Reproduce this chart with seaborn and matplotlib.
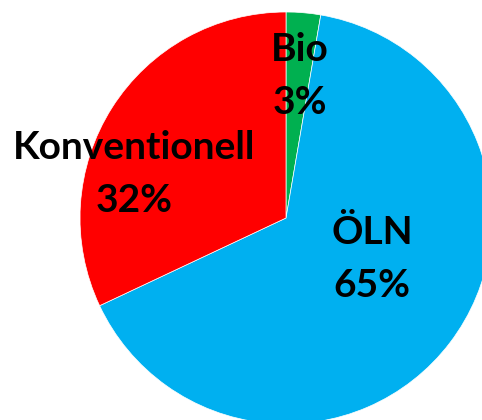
import matplotlib
matplotlib.use("Agg")
import matplotlib.pyplot as plt
import seaborn as sns

# data (shares; labels show them rounded)
labels = ["Bio", "ÖLN", "Konventionell"]
shares = [2.7, 65.3, 32.0]
colors = ["#00B050", "#00B0F0", "#FF0000"]

sns.set_style("white")
plt.rcParams['font.family'] = ['Lato', 'DejaVu Sans']

fig = plt.figure(figsize=(4.82, 4.20), dpi=100)
ax = fig.add_axes([0, 0, 1, 1])

# pie in pixel-like coordinates so it can run off the right/bottom edge
wedges, _ = ax.pie(shares, colors=colors, startangle=90, counterclock=False,
                   center=(286, 202), radius=206,
                   wedgeprops=dict(edgecolor="white", linewidth=0.5))
ax.set_xlim(0, 482)
ax.set_ylim(0, 420)
ax.set_aspect("equal")
ax.axis("off")

# label order follows labels: Bio, ÖLN, Konventionell
label_pos = [(300, 344), (372, 161), (134, 246)]
for name, val, (x, y) in zip(labels, shares, label_pos):
    ax.text(x, y, f"{name}\n{val:.0f}%", ha="center", va="center",
            fontsize=28, fontweight="bold", color="black", linespacing=1.6)

fig.savefig("out.png", dpi=100)
